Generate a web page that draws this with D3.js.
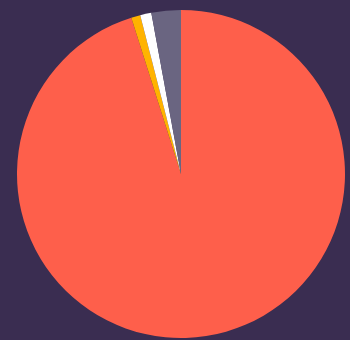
<!DOCTYPE html>
<html>
<head>
<meta charset="utf-8">
<script src="https://cdn.jsdelivr.net/npm/d3@7"></script>
<style>
  body { margin: 0; background: #3a2d51; }
</style>
</head>
<body>
<script>
const width = 350;
const height = 340;

// slices, clockwise from 12 o'clock
const labels = ['A', 'B', 'C', 'D'];
const values = [95.1, 0.9, 1.1, 2.9];
const colors = ['#fe5f4b', '#ffb300', '#ffffff', '#6a6581'];

const svg = d3.select('body').append('svg')
  .attr('width', width)
  .attr('height', height);

svg.append('rect')
  .attr('width', width)
  .attr('height', height)
  .attr('fill', '#3a2d51');

const pie = d3.pie().sort(null).value(d => d.value);
const arc = d3.arc().innerRadius(0).outerRadius(164);

const data = labels.map((l, i) => ({ label: l, value: values[i], color: colors[i] }));

const g = svg.append('g')
  .attr('transform', 'translate(181,174)');

g.selectAll('path')
  .data(pie(data))
  .enter().append('path')
  .attr('d', arc)
  .attr('fill', d => d.data.color);
</script>
</body>
</html>
